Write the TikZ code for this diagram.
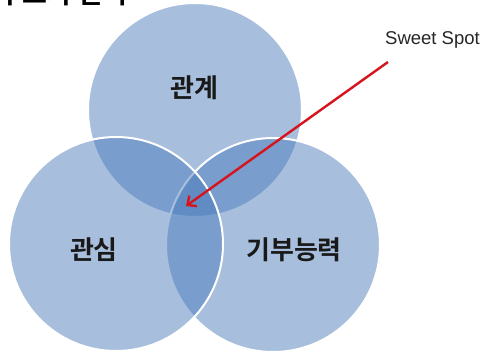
\documentclass[tikz,border=0pt]{standalone}
\usepackage{fontspec}
\newfontfamily\kr{Noto Sans CJK KR}
\newfontfamily\krb{Noto Sans CJK KR Bold}
\setmainfont{Liberation Sans}
\usetikzlibrary{arrows.meta}
\definecolor{vennblue}{RGB}{72,122,186}
\definecolor{arrowred}{RGB}{214,20,30}
\tikzset{
  venn/.style={circle, minimum size=214pt, inner sep=0pt, fill=vennblue, fill opacity=0.48, draw=white, line width=2pt},
  lbl/.style={font=\krb\fontsize{26}{30}\selectfont, text=black!90},
  redarrow/.style={draw=arrowred, line width=2.4pt, -{Straight Barb[length=7pt,width=13pt]}}
}
\begin{document}
\begin{tikzpicture}[x=1pt,y=-1pt]
\useasboundingbox (0,0) rectangle (483,354);
\clip (0,0) rectangle (483,354);
\fill[white] (0,0) rectangle (483,354);
\node[anchor=base east, inner sep=0pt, font=\krb\fontsize{27}{30}\selectfont] (title) at (128,3) {기부자 조사 관력};
\node[venn] (top) at (195,110) {};
\node[venn] (right) at (273,245) {};
\node[venn] (left) at (116,244) {};
\node[lbl] (l1) at (194,88) {관계};
\node[lbl] (l2) at (94,250) {관심};
\node[lbl] (l3) at (294,250) {기부능력};
\node[anchor=west, inner sep=0pt, font=\fontsize{18.5}{22}\selectfont, text=black!85] (ss) at (385,40) {Sweet Spot};
\coordinate (start) at (388,62);
\coordinate (spot) at (186,206);
\draw[redarrow] (start) -- (spot);
\end{tikzpicture}
\end{document}
